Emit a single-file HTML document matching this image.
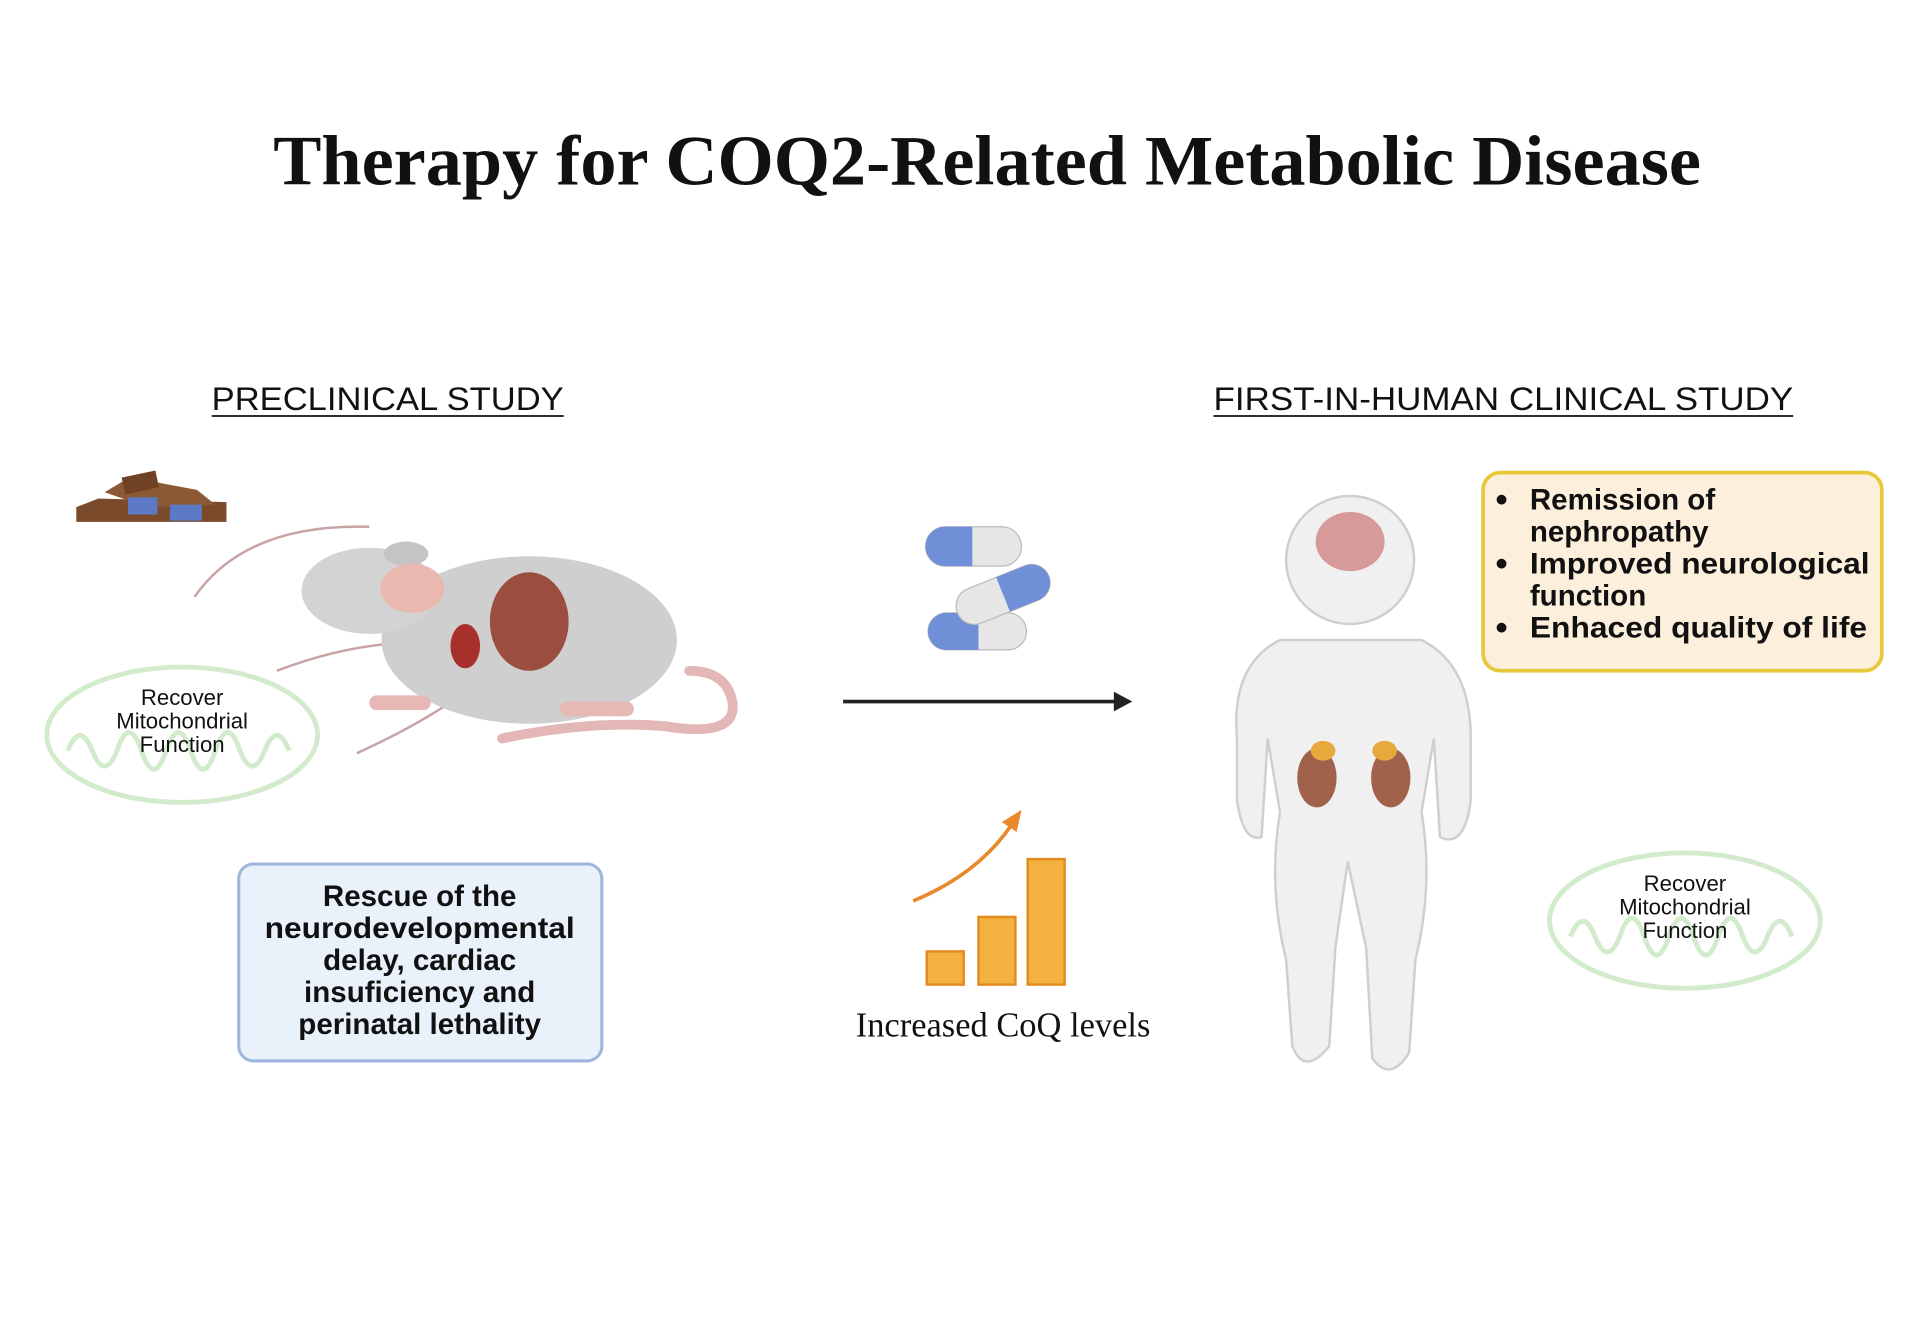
<!DOCTYPE html>
<html><head><meta charset="utf-8"><style>
html,body{margin:0;padding:0;background:#fff}
svg{display:block}
.s{font-family:"Liberation Sans",sans-serif}
</style></head><body>
<svg width="1920" height="1344" viewBox="0 0 1560 1092" preserveAspectRatio="none" xmlns="http://www.w3.org/2000/svg">
<rect width="1560" height="1092" fill="#fff"/>
<text x="802" y="150" text-anchor="middle" font-family="Liberation Serif,serif" font-weight="bold" font-size="58" textLength="1160" lengthAdjust="spacingAndGlyphs" fill="#111">Therapy for COQ2-Related Metabolic Disease</text>
<g class="s" font-size="26" fill="#111">
<text x="172" y="333" textLength="286" lengthAdjust="spacingAndGlyphs">PRECLINICAL STUDY</text>
<line x1="172" y1="338" x2="458" y2="338" stroke="#111" stroke-width="1.5"/>
<text x="986" y="333" textLength="471" lengthAdjust="spacingAndGlyphs">FIRST-IN-HUMAN CLINICAL STUDY</text>
<line x1="986" y1="338" x2="1457" y2="338" stroke="#111" stroke-width="1.5"/>
</g>
<g>
<polygon points="62,412 80,405 184,408 184,424 62,424" fill="#7a4a2a"/>
<polygon points="85,400 105,388 128,392 160,398 175,410 120,412" fill="#8b5a35"/>
<rect x="100" y="385" width="28" height="14" fill="#6e4222" transform="rotate(-12 114 392)"/>
<rect x="104" y="404" width="24" height="14" fill="#5b79c4"/>
<rect x="138" y="410" width="26" height="13" fill="#5b79c4"/>
</g>
<g fill="none" stroke="#c9a3a3" stroke-width="2">
<path d="M158,485 Q200,425 300,428"/>
<path d="M225,545 Q290,520 352,522"/>
<path d="M290,612 Q360,580 400,545"/>
</g>
<path d="M408,600 Q480,585 540,590 Q600,600 595,570 Q590,545 560,545" fill="none" stroke="#e3b7b5" stroke-width="8" stroke-linecap="round"/>
<ellipse cx="430" cy="520" rx="120" ry="68" fill="#cfcfcf"/>
<ellipse cx="300" cy="480" rx="55" ry="35" fill="#d3d3d3"/>
<ellipse cx="330" cy="450" rx="18" ry="10" fill="#c4c4c4"/>
<ellipse cx="335" cy="478" rx="26" ry="20" fill="#e9b9b0"/>
<ellipse cx="430" cy="505" rx="32" ry="40" fill="#9b4e3f"/>
<ellipse cx="378" cy="525" rx="12" ry="18" fill="#a8302a"/>
<rect x="300" y="565" width="50" height="12" rx="6" fill="#e6b9b5"/>
<rect x="455" y="570" width="60" height="12" rx="6" fill="#e6b9b5"/>
<g fill="none" stroke="#d3ebcd" stroke-width="4">
<ellipse cx="148" cy="597" rx="110" ry="55"/>
<path d="M55,610 q10,-25 20,0 q10,25 20,0 q10,-30 20,0 q10,30 20,0 q10,-30 20,0 q10,30 20,0 q10,-30 20,0 q10,25 20,0 q10,-25 20,0"/>
<ellipse cx="1369" cy="748" rx="110" ry="55"/>
<path d="M1276,761 q10,-25 20,0 q10,25 20,0 q10,-30 20,0 q10,30 20,0 q10,-30 20,0 q10,30 20,0 q10,-30 20,0 q10,25 20,0 q10,-25 20,0"/>
</g>
<g class="s" font-size="18" fill="#111" text-anchor="middle">
<text x="148" y="573">Recover</text><text x="148" y="592">Mitochondrial</text><text x="148" y="611">Function</text>
<text x="1369" y="724">Recover</text><text x="1369" y="743">Mitochondrial</text><text x="1369" y="762">Function</text>
</g>
<rect x="194" y="702" width="295" height="160" rx="12" fill="#e9f1fb" stroke="#9fb6dc" stroke-width="2.5"/>
<g class="s" font-size="24" font-weight="bold" fill="#111" text-anchor="middle">
<text x="341" y="736">Rescue of the</text>
<text x="341" y="762" textLength="252" lengthAdjust="spacingAndGlyphs">neurodevelopmental</text>
<text x="341" y="788">delay, cardiac</text>
<text x="341" y="814">insuficiency and</text>
<text x="341" y="840">perinatal lethality</text>
</g>
<line x1="685" y1="570" x2="908" y2="570" stroke="#222" stroke-width="3"/>
<polygon points="920,570 905,562 905,578" fill="#222"/>
<g>
<rect x="752" y="428" width="78" height="32" rx="16" fill="#e6e6e6" stroke="#bbb"/>
<path d="M768,428 H790 V460 H768 A16,16 0 0 1 768,428Z" fill="#6f8fd6"/>
<rect x="754" y="498" width="80" height="30" rx="15" fill="#e6e6e6" stroke="#bbb"/>
<path d="M769,498 H795 V528 H769 A15,15 0 0 1 769,498Z" fill="#6f8fd6"/>
<g transform="rotate(-22 815 483)">
<rect x="775" y="468" width="80" height="30" rx="15" fill="#e6e6e6" stroke="#bbb"/>
<path d="M815,468 H840 A15,15 0 0 1 840,498 H815Z" fill="#6f8fd6"/>
</g>
</g>
<g fill="#f3b13f" stroke="#e48b1f" stroke-width="2">
<rect x="753" y="773" width="30" height="27"/>
<rect x="795" y="745" width="30" height="55"/>
<rect x="835" y="698" width="30" height="102"/>
</g>
<path d="M742,732 Q795,710 822,670" fill="none" stroke="#e8892a" stroke-width="3"/>
<polygon points="830,658 814,668 826,676" fill="#e8892a"/>
<text x="815" y="842" text-anchor="middle" font-family="Liberation Serif,serif" font-size="28" fill="#111">Increased CoQ levels</text>
<g fill="#f0f0f0" stroke="#cfcfcf" stroke-width="2">
<path d="M1040,520 Q1000,540 1005,600 L1005,650 Q1010,685 1025,680 L1030,600 L1040,660 Q1030,720 1045,780 L1050,850 Q1060,875 1080,850 L1085,770 L1095,700 L1110,770 L1115,860 Q1130,880 1145,855 L1150,780 Q1165,720 1155,660 L1165,600 L1170,680 Q1190,690 1195,650 L1195,600 Q1195,540 1155,520 Z"/>
<circle cx="1097" cy="455" r="52"/>
</g>
<ellipse cx="1097" cy="440" rx="28" ry="24" fill="#d79a9a"/>
<ellipse cx="1070" cy="632" rx="16" ry="24" fill="#a0624a"/>
<ellipse cx="1130" cy="632" rx="16" ry="24" fill="#a0624a"/>
<ellipse cx="1075" cy="610" rx="10" ry="8" fill="#e7a83c"/>
<ellipse cx="1125" cy="610" rx="10" ry="8" fill="#e7a83c"/>
<rect x="1205" y="384" width="324" height="161" rx="14" fill="#fcefdc" stroke="#e6c838" stroke-width="3"/>
<g class="s" font-size="24" font-weight="bold" fill="#111">
<circle cx="1220" cy="406" r="4"/><circle cx="1220" cy="458" r="4"/><circle cx="1220" cy="510" r="4"/>
<text x="1243" y="414">Remission of</text>
<text x="1243" y="440">nephropathy</text>
<text x="1243" y="466" textLength="276" lengthAdjust="spacingAndGlyphs">Improved neurological</text>
<text x="1243" y="492">function</text>
<text x="1243" y="518" textLength="274" lengthAdjust="spacingAndGlyphs">Enhaced quality of life</text>
</g>
</svg>
</body></html>
